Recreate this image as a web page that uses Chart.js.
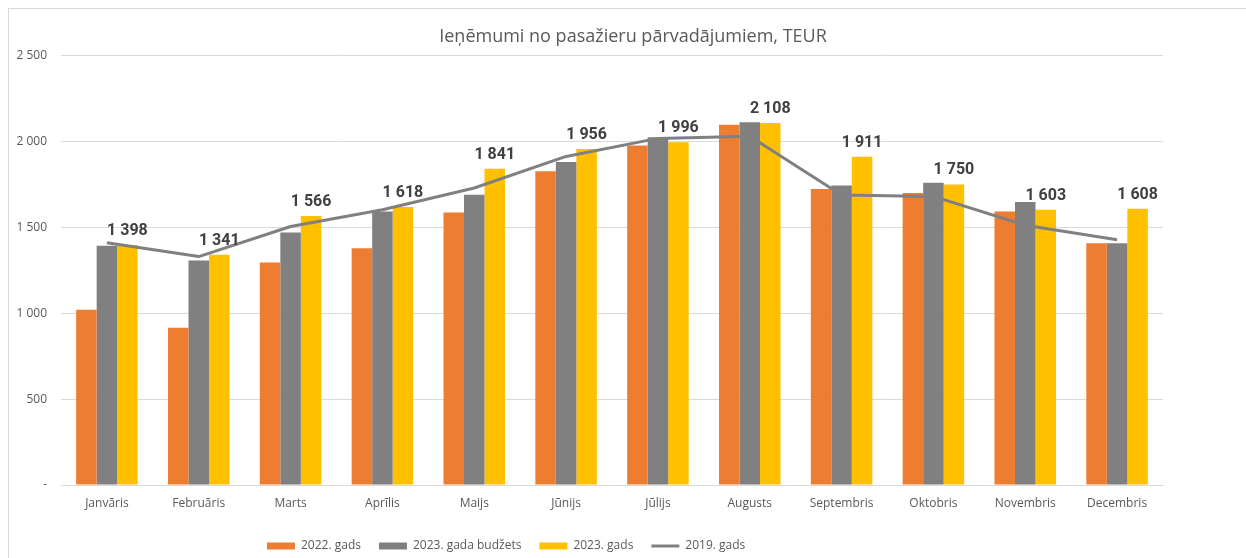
<!DOCTYPE html>
<html lang="lv">
<head>
<meta charset="utf-8">
<title>Ieņēmumi no pasažieru pārvadājumiem</title>
<script src="https://cdn.jsdelivr.net/npm/chart.js@4.4.1/dist/chart.umd.min.js"></script>
<style>
    html, body { margin: 0; padding: 0; background: #fff; overflow: hidden; }
    #ramis { position: absolute; left: 8px; top: 8px; width: 1300px; height: 600px; border: 1px solid #d9d9d9; }
    #grafiks { position: absolute; left: 0; top: 0; }
</style>
</head>
<body>
<div id="ramis"></div>
<canvas id="grafiks" width="1246" height="558"></canvas>
<script>
const menesi = ["Janvāris", "Februāris", "Marts", "Aprīlis", "Maijs", "Jūnijs",
    "Jūlijs", "Augusts", "Septembris", "Oktobris", "Novembris", "Decembris"];

const gads2022 = [1020, 915, 1295, 1379, 1587, 1826, 1976, 2098, 1723, 1700, 1593, 1408];
const budzets2023 = [1393, 1307, 1470, 1593, 1690, 1880, 2024, 2112, 1744, 1760, 1647, 1408];
const gads2023 = [1398, 1341, 1566, 1618, 1841, 1956, 1996, 2108, 1911, 1750, 1603, 1608];
const gads2019 = [1410, 1330, 1505, 1603, 1729, 1913, 2018, 2030, 1688, 1680, 1512, 1428];

const yTicks = [0, 500, 1000, 1500, 2000, 2500];

function formatet(v) {
    if (v === 0) return "-";
    return String(v).replace(/\B(?=(\d{3})+(?!\d))/g, " ");
}

// vērtības virs 2023. gada stabiņiem
const vertibuEtiketes = {
    id: "vertibuEtiketes",
    afterDatasetsDraw(chart) {
        const ctx = chart.ctx;
        const meta = chart.getDatasetMeta(2);
        ctx.save();
        ctx.font = "bold 16px Roboto";
        ctx.fillStyle = "#404040";
        ctx.textAlign = "center";
        ctx.textBaseline = "alphabetic";
        meta.data.forEach((el, i) => {
            ctx.fillText(formatet(gads2023[i]), el.x, el.y - 10);
        });
        ctx.restore();
    }
};

// virsraksta un leģendas novietojums kā oriģinālā
const novietojums = {
    id: "novietojums",
    afterLayout(chart) {
        chart.titleBlock.left = 0;
        chart.titleBlock.right = 1266;
        chart.legend.left = 267 - 18;
        chart.legend.right = 1246;
        chart.legend.top += 4;
        chart.legend.bottom += 4;
    }
};

const ctx = document.getElementById("grafiks").getContext("2d");
new Chart(ctx, {
    data: {
        labels: menesi,
        datasets: [
            {
                type: "bar",
                label: "2022. gads",
                data: gads2022,
                backgroundColor: "#ED7D31",
                pointStyle: "rect"
            },
            {
                type: "bar",
                label: "2023. gada budžets",
                data: budzets2023,
                backgroundColor: "#808080",
                pointStyle: "rect"
            },
            {
                type: "bar",
                label: "2023. gads",
                data: gads2023,
                backgroundColor: "#FFC000",
                pointStyle: "rect"
            },
            {
                type: "line",
                label: "2019. gads",
                data: gads2019,
                borderColor: "#808080",
                backgroundColor: "#808080",
                borderWidth: 3,
                pointRadius: 0,
                tension: 0,
                fill: false,
                borderJoinStyle: "round",
                pointStyle: "line",
                order: -1
            }
        ]
    },
    options: {
        responsive: false,
        animation: false,
        datasets: {
            bar: { barPercentage: 1, categoryPercentage: 0.67, order: 1 }
        },
        layout: { padding: { left: 0, right: 83, top: 0, bottom: 0 } },
        plugins: {
            title: {
                display: true,
                text: "Ieņēmumi no pasažieru pārvadājumiem, TEUR",
                color: "#595959",
                font: { family: "'Open Sans'", size: 18, weight: "normal" },
                padding: { top: 26, bottom: 8 }
            },
            legend: {
                position: "bottom",
                align: "start",
                labels: {
                    usePointStyle: true,
                    pointStyleWidth: 28,
                    boxHeight: 7,
                    padding: 18,
                    color: "#595959",
                    font: { family: "'Open Sans'", size: 12 },
                    sort: (a, b) => a.datasetIndex - b.datasetIndex
                }
            },
            tooltip: { enabled: false }
        },
        scales: {
            x: {
                grid: { display: false },
                border: { color: "#d9d9d9" },
                ticks: {
                    color: "#595959",
                    padding: 3,
                    font: { family: "'Open Sans'", size: 12 }
                },
                afterFit: s => { s.height = 33; }
            },
            y: {
                min: 0,
                max: 2500,
                afterBuildTicks: s => { s.ticks = yTicks.map(v => ({ value: v })); },
                grid: { color: "#d9d9d9", drawTicks: false },
                border: { display: false },
                ticks: {
                    color: "#595959",
                    padding: 14,
                    font: { family: "'Open Sans'", size: 12 },
                    callback: v => formatet(v)
                },
                afterFit: s => { s.width = 61; }
            }
        }
    },
    plugins: [vertibuEtiketes, novietojums]
});
</script>
</body>
</html>
